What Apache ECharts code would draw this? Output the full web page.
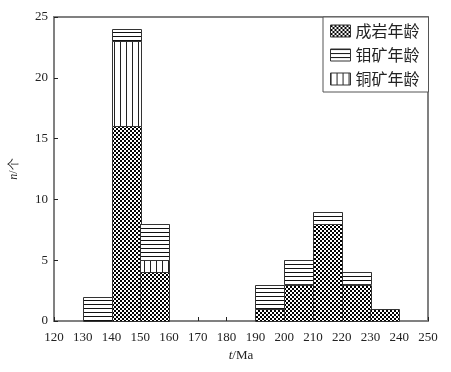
<!DOCTYPE html>
<html><head><meta charset="utf-8">
<script src="https://cdn.jsdelivr.net/npm/echarts@6/dist/echarts.min.js"></script>
<style>html,body{margin:0;padding:0;background:#fff}#c{width:451px;height:372px}</style>
</head><body><div id="c"></div>
<script>
// Histogram bins (t/Ma), each 10 Ma wide
const binStarts = [130, 140, 150, 190, 200, 210, 220, 230];
const binWidth = 10;
// counts per bin
const chengyan = [0, 16, 4, 1, 3, 8, 3, 1];   // 成岩年龄
const tong     = [0, 7, 1, 0, 0, 0, 0, 0];    // 铜矿年龄
const mu       = [2, 1, 3, 2, 2, 1, 1, 0];    // 钼矿年龄
const seriesNames = ['成岩年龄', '钼矿年龄', '铜矿年龄'];
const xMin = 120, xMax = 250, xStep = 10;
const yMin = 0, yMax = 25, yStep = 5;

function makeCanvas(w, h, draw) {
  const c = document.createElement('canvas');
  c.width = w; c.height = h;
  const g = c.getContext('2d');
  g.fillStyle = '#fff'; g.fillRect(0, 0, w, h);
  draw(g);
  return c;
}
const checker = { image: makeCanvas(4, 4, g => { g.fillStyle = '#000'; g.fillRect(0,0,2,2); g.fillRect(2,2,2,2); }), repeat: 'repeat' };
const hlines = { image: makeCanvas(4, 4, g => { g.fillStyle = '#111'; g.fillRect(0,0,4,1); }), repeat: 'repeat' };
const vlines = { image: makeCanvas(6, 4, g => { g.fillStyle = '#222'; g.fillRect(0,0,1,4); }), repeat: 'repeat' };

function build(vals, bases) {
  return binStarts.map((s, i) => [s, s + binWidth, bases[i], bases[i] + vals[i]]).filter(d => d[3] > d[2]);
}
const zero = binStarts.map(() => 0);
const baseTong = chengyan.slice();
const baseMu = chengyan.map((v, i) => v + tong[i]);

function renderer(fill) {
  return function (params, api) {
    const p0 = api.coord([api.value(0), api.value(3)]);
    const p1 = api.coord([api.value(1), api.value(2)]);
    return {
      type: 'rect',
      shape: { x: Math.round(p0[0]) + 0.5, y: Math.round(p0[1]) + 0.5, width: Math.round(p1[0] - p0[0]), height: Math.round(p1[1] - p0[1]) },
      style: { fill: fill, stroke: '#333', lineWidth: 1 }
    };
  };
}
function mkSeries(name, data, fill) {
  return {
    type: 'custom', name: name, data: data,
    encode: { x: [0, 1], y: [2, 3] },
    renderItem: renderer(fill),
    itemStyle: { color: fill, borderColor: '#333', borderWidth: 1 }
  };
}

const serif = 'Liberation Serif, Times New Roman, serif';
const cjk = 'Noto Sans CJK SC';
const chart = echarts.init(document.getElementById('c'), null, { renderer: 'canvas' });
chart.setOption({
  animation: false,
  backgroundColor: '#fff',
  grid: { left: 53, right: 23, top: 17, bottom: 51, show: true, borderColor: '#808080', borderWidth: 2, backgroundColor: 'transparent' },
  legend: {
    orient: 'vertical', left: 323, top: 17,
    padding: [6, 9, 5, 7], itemGap: 8, itemWidth: 20, itemHeight: 12,
    borderColor: '#555', borderWidth: 1, backgroundColor: '#fff',
    icon: 'rect',
    textStyle: { fontFamily: cjk, fontSize: 16, color: '#222', padding: [0, 0, 0, 0] },
    data: [
      { name: seriesNames[0], itemStyle: { color: checker, borderColor: '#333', borderWidth: 1 } },
      { name: seriesNames[1], itemStyle: { color: hlines, borderColor: '#333', borderWidth: 1 } },
      { name: seriesNames[2], itemStyle: { color: vlines, borderColor: '#333', borderWidth: 1 } }
    ]
  },
  xAxis: {
    type: 'value', min: xMin, max: xMax, interval: xStep,
    axisLine: { show: true, lineStyle: { color: '#808080', width: 2 } },
    axisTick: { show: true, inside: true, length: 4, lineStyle: { color: '#222' } },
    axisLabel: { fontFamily: serif, fontSize: 13, color: '#222', margin: 10 },
    splitLine: { show: false },
    name: '{i|t}/Ma', nameLocation: 'middle', nameGap: 24,
    nameTextStyle: { fontFamily: serif, fontSize: 13, color: '#222', rich: { i: { fontStyle: 'italic', fontFamily: serif, fontSize: 13, color: '#222' } } }
  },
  yAxis: {
    type: 'value', min: yMin, max: yMax, interval: yStep,
    axisLine: { show: true, lineStyle: { color: '#808080', width: 2 } },
    axisTick: { show: true, inside: true, length: 4, lineStyle: { color: '#222' } },
    axisLabel: { fontFamily: serif, fontSize: 13, color: '#222', margin: 6 },
    splitLine: { show: false },
    name: '{i|n}/个', nameLocation: 'middle', nameGap: 34, nameRotate: 90,
    nameTextStyle: { fontFamily: serif, fontSize: 12, color: '#222', rich: { i: { fontStyle: 'italic', fontFamily: serif, fontSize: 12, color: '#222' } } }
  },
  series: [
    mkSeries(seriesNames[0], build(chengyan, zero), checker),
    mkSeries(seriesNames[1], build(mu, baseMu), hlines),
    mkSeries(seriesNames[2], build(tong, baseTong), vlines)
  ]
});
</script>
</body></html>
